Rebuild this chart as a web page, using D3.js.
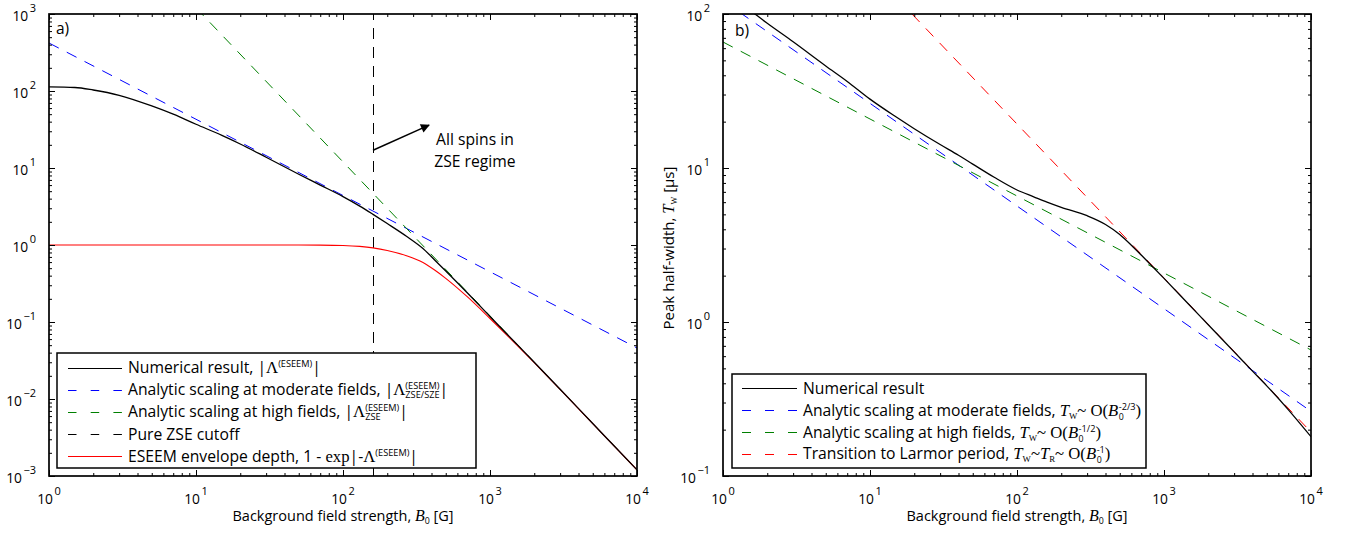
<!DOCTYPE html>
<html>
<head>
<meta charset="utf-8">
<script src="https://cdn.jsdelivr.net/npm/d3@7"></script>
<style>
  body { margin: 0; background: #fff; }
  svg { display: block; }
  text { white-space: pre; }
</style>
</head>
<body>
<svg id="fig" width="1354" height="542"></svg>
<script>
// ---------- panel (a): ESEEM modulation parameter vs background field ----------
const fieldA        = [1, 1.5, 2, 3, 5, 7, 10, 15, 20, 30, 50, 70, 100, 130, 160, 200, 270, 350, 420, 500, 700, 1000, 1500, 2000, 3000, 5000, 7000, 10000];
const lambdaNum     = [113, 111, 103, 88, 64, 50, 37, 26.5, 20.5, 13.8, 8.3, 6.0, 4.25, 3.2, 2.5, 1.9, 1.3, 0.9, 0.64, 0.46, 0.24, 0.118, 0.053, 0.030, 0.0134, 0.0048, 0.00245, 0.0012];
const envelopeDepth = [1, 1, 1, 1, 1, 1, 1, 1, 1, 1, 0.9998, 0.9975, 0.986, 0.959, 0.918, 0.850, 0.727, 0.593, 0.473, 0.369, 0.213, 0.111, 0.0516, 0.0296, 0.0133, 0.0048, 0.00245, 0.0012];
const moderateFieldA = [1, 10000];
const moderateLambda = [420, 0.046];
const highFieldA     = [10, 10000];
const highLambda     = [1200, 0.0012];
const zseCutoff      = 160;

// ---------- panel (b): peak half-width vs background field ----------
const fieldB     = [1, 1.5, 2, 3, 5, 7, 10, 15, 20, 30, 40, 50, 70, 100, 130, 160, 200, 300, 400, 500, 600, 700, 800, 1000, 1500, 2000, 3000, 4000, 5000, 7000, 10000];
const widthNum   = [140, 107, 87, 66, 46, 36.5, 28, 21.5, 18, 14.2, 12.1, 10.6, 8.7, 7.2, 6.5, 6.0, 5.55, 4.9, 4.3, 3.7, 3.15, 2.72, 2.39, 1.92, 1.28, 0.96, 0.64, 0.48, 0.385, 0.27, 0.18];
const moderateFieldB = [1, 10000];
const moderateWidth  = [122, 0.263];
const highFieldB     = [1, 10000];
const highWidth      = [65.8, 0.658];
const larmorField    = [19.3, 10000];
const larmorWidth    = [100, 0.193];

// ---------- axis tick labels (decade exponents) ----------
const xDecades  = [0, 1, 2, 3, 4];
const yDecadesA = [-3, -2, -1, 0, 1, 2, 3];
const yDecadesB = [-1, 0, 1, 2];

const SANS  = "'Open Sans','Noto Sans',sans-serif";
const SERIF = "'Liberation Serif','DejaVu Serif',serif";
const FS_TICK = 13.8, FS_EXP = 11, FS_LEG = 15.7, FS_LAB = 14.5;

const svg = d3.select("#fig");

const xA = d3.scaleLog().domain([1, 1e4]).range([49, 637]);
const yA = d3.scaleLog().domain([1e-3, 1e3]).range([476, 14]);
const xB = d3.scaleLog().domain([1, 1e4]).range([723, 1311]);
const yB = d3.scaleLog().domain([0.1, 100]).range([476, 14]);

const zip = (a, b) => a.map((v, i) => [v, b[i]]);

// Sequential text pieces (mixed fonts, sub/superscripts). A piece with
// stack:true is placed at the start of the previous piece (sub under sup).
function rich(parent, x, y, parts, anchor = "start", rotate = 0) {
  const g = parent.append("g");
  let cx = 0, prevStart = 0;
  for (const p of parts) {
    const t = g.append("text")
      .attr("xml:space", "preserve")
      .attr("y", p.dy || 0)
      .style("font-family", p.f || SANS)
      .style("font-size", (p.s || FS_LEG) + "px")
      .style("font-style", p.i ? "italic" : "normal")
      .attr("fill", "#000")
      .text(p.t);
    const w = t.node().getComputedTextLength();
    if (p.stack) {
      t.attr("x", prevStart);
      cx = Math.max(cx, prevStart + w);
    } else {
      prevStart = cx + (p.dx || 0);
      t.attr("x", prevStart);
      cx = prevStart + w;
    }
  }
  const shift = anchor === "middle" ? -cx / 2 : anchor === "end" ? -cx : 0;
  g.attr("transform", `translate(${x},${y}) rotate(${rotate}) translate(${shift},0)`);
  return g;
}

function powLabel(e) {
  return [{ t: "10", s: FS_TICK }, { t: e < 0 ? "\u2212" + (-e) : String(e), s: FS_EXP, dy: -9, dx: 1.5 }];
}

function minorValues(lo, hi) {
  const out = [];
  for (let e = lo; e < hi; e++) for (let m = 2; m <= 9; m++) out.push(m * Math.pow(10, e));
  return out;
}

function frame(g, x, y, xdec, ydec) {
  const [x0, x1] = x.range();
  const [y0, y1] = y.range();
  const majX = xdec.map(e => Math.pow(10, e));
  const majY = ydec.map(e => Math.pow(10, e));
  const minX = minorValues(xdec[0], xdec[xdec.length - 1]);
  const minY = minorValues(ydec[0], ydec[ydec.length - 1]);

  const put = (axis, tr) => {
    const a = g.append("g").attr("transform", tr).call(axis);
    a.select(".domain").remove();
    a.selectAll("line").attr("stroke", "#000").attr("stroke-width", 1);
  };
  for (const [vals, len] of [[majX, 6], [minX, 3]]) {
    put(d3.axisBottom(x).tickValues(vals).tickSize(-len).tickFormat(""), `translate(0,${y0})`);
    put(d3.axisTop(x).tickValues(vals).tickSize(-len).tickFormat(""), `translate(0,${y1})`);
  }
  for (const [vals, len] of [[majY, 6], [minY, 3]]) {
    put(d3.axisLeft(y).tickValues(vals).tickSize(-len).tickFormat(""), `translate(${x0},0)`);
    put(d3.axisRight(y).tickValues(vals).tickSize(-len).tickFormat(""), `translate(${x1},0)`);
  }
  g.append("rect").attr("x", x0).attr("y", y1).attr("width", x1 - x0).attr("height", y0 - y1)
    .attr("fill", "none").attr("stroke", "#000").attr("stroke-width", 1.7);

  xdec.forEach(e => rich(g, x(Math.pow(10, e)), 504, powLabel(e), "middle"));
  ydec.forEach(e => rich(g, x0 - 13, y(Math.pow(10, e)) + 7, powLabel(e), "end"));
}

function series(g, x, y, pts, color, dashed, width) {
  g.append("path")
    .datum(pts)
    .attr("d", d3.line().x(d => x(d[0])).y(d => y(d[1])).curve(d3.curveMonotoneX))
    .attr("fill", "none")
    .attr("stroke", color)
    .attr("stroke-width", width || 1)
    .attr("stroke-dasharray", dashed ? "11,9" : null);
}

function legend(g, box, rows) {
  g.append("rect").attr("x", box[0]).attr("y", box[1]).attr("width", box[2] - box[0]).attr("height", box[3] - box[1])
    .attr("fill", "#fff").attr("stroke", "#000").attr("stroke-width", 1.5);
  rows.forEach(r => {
    const ly = 2 * Math.round((r.y - 6) / 2) + 0.5;
    g.append("line").attr("x1", r.x1).attr("x2", r.x2).attr("y1", ly).attr("y2", ly)
      .attr("stroke", r.color).attr("stroke-width", 1.2)
      .attr("stroke-dasharray", r.dash || null);
    rich(g, r.tx, r.y, r.parts);
  });
}

const SUP = 9.2, SUB = 9.8;

// ================= panel (a) =================
const ga = svg.append("g");
ga.append("clipPath").attr("id", "clipA").append("rect")
  .attr("x", 49).attr("y", 14).attr("width", 588).attr("height", 462);
const pa = ga.append("g").attr("clip-path", "url(#clipA)");

const cutX = Math.round(xA(zseCutoff)) + 0.5;
pa.append("line")
  .attr("x1", cutX).attr("x2", cutX)
  .attr("y1", yA(1e-3)).attr("y2", yA(1e3))
  .attr("stroke", "#000").attr("stroke-width", 1).attr("stroke-dasharray", "11,8");
series(pa, xA, yA, zip(moderateFieldA, moderateLambda), "#0000ff", true);
series(pa, xA, yA, zip(highFieldA, highLambda), "#008000", true);
series(pa, xA, yA, zip(fieldA, envelopeDepth), "#ff0000", false, 1.1);
series(pa, xA, yA, zip(fieldA, lambdaNum), "#000", false, 1.3);

frame(ga, xA, yA, xDecades, yDecadesA);

// annotation arrow pointing into the ZSE regime
const arrowFrom = [xA(zseCutoff), yA(17)];
const arrowTo = [xA(385), yA(36)];
ga.append("defs").append("marker").attr("id", "head").attr("viewBox", "0 0 10 10")
  .attr("refX", 9).attr("refY", 5).attr("markerWidth", 13).attr("markerHeight", 9)
  .attr("markerUnits", "userSpaceOnUse").attr("orient", "auto")
  .append("path").attr("d", "M0,0 L10,5 L0,10 z").attr("fill", "#000");
ga.append("line").attr("x1", arrowFrom[0]).attr("y1", arrowFrom[1])
  .attr("x2", arrowTo[0]).attr("y2", arrowTo[1])
  .attr("stroke", "#000").attr("stroke-width", 1.5).attr("marker-end", "url(#head)");
rich(ga, xA(790), yA(19.9), [{ t: "All spins in", s: FS_LEG }], "middle");
rich(ga, xA(790), yA(10.3), [{ t: "ZSE regime", s: FS_LEG }], "middle");

rich(ga, 56, 34, [{ t: "a)", s: 15.5 }]);

const lam = { t: "\u039B", f: SERIF, s: FS_LEG + 1 };
legend(ga, [57, 353, 476, 468], [
  { y: 373, x1: 68, x2: 122, tx: 128, color: "#000",
    parts: [{ t: "Numerical result, |" }, lam, { t: "(ESEEM)", s: SUP, dy: -6 }, { t: "|" }] },
  { y: 395, x1: 68, x2: 122, tx: 128, color: "#0000ff", dash: "8.5,14.2",
    parts: [{ t: "Analytic scaling at moderate fields, |" }, lam, { t: "(ESEEM)", s: SUP, dy: -6 },
            { t: "ZSE/SZE", s: SUP, dy: 3, stack: true }, { t: "|" }] },
  { y: 417, x1: 68, x2: 122, tx: 128, color: "#008000", dash: "8.5,14.2",
    parts: [{ t: "Analytic scaling at high fields, |" }, lam, { t: "(ESEEM)", s: SUP, dy: -6 },
            { t: "ZSE", s: SUP, dy: 3, stack: true }, { t: "|" }] },
  { y: 440, x1: 68, x2: 122, tx: 128, color: "#000", dash: "8.5,14.2",
    parts: [{ t: "Pure ZSE cutoff" }] },
  { y: 462, x1: 68, x2: 122, tx: 128, color: "#ff0000",
    parts: [{ t: "ESEEM envelope depth, 1 - " }, { t: "exp", f: SERIF, s: FS_LEG + 1 }, { t: "|-" }, lam,
            { t: "(ESEEM)", s: SUP, dy: -6 }, { t: "|" }] }
]);

rich(ga, 343, 521, [{ t: "Background field strength, ", s: FS_LAB }, { t: "B", f: SERIF, i: true, s: FS_LAB + 1.5 },
  { t: "0", s: SUB - 1, dy: 3 }, { t: " [G]", s: FS_LAB }], "middle");

// ================= panel (b) =================
const gb = svg.append("g");
gb.append("clipPath").attr("id", "clipB").append("rect")
  .attr("x", 723).attr("y", 14).attr("width", 588).attr("height", 462);
const pb = gb.append("g").attr("clip-path", "url(#clipB)");

series(pb, xB, yB, zip(larmorField, larmorWidth), "#ff0000", true);
series(pb, xB, yB, zip(moderateFieldB, moderateWidth), "#0000ff", true);
series(pb, xB, yB, zip(highFieldB, highWidth), "#008000", true);
series(pb, xB, yB, zip(fieldB, widthNum), "#000", false, 1.3);

frame(gb, xB, yB, xDecades, yDecadesB);

rich(gb, 735, 36, [{ t: "b)", s: 15.5 }]);

const T = { t: "T", f: SERIF, i: true, s: FS_LEG + 1 };
const Wsub = { t: "W", f: SERIF, s: SUB - 1, dy: 3 };
const Bit = { t: "B", f: SERIF, i: true, s: FS_LEG + 1 };
const zeroSub = { t: "0", s: SUB - 1, dy: 3.5, dx: 0.5 };
const paren = { t: ")", f: SERIF, s: FS_LEG + 1 };
legend(gb, [732, 374, 1146, 468], [
  { y: 394, x1: 742, x2: 797, tx: 803, color: "#000",
    parts: [{ t: "Numerical result" }] },
  { y: 416, x1: 742, x2: 797, tx: 803, color: "#0000ff", dash: "9,14",
    parts: [{ t: "Analytic scaling at moderate fields, " }, T, Wsub, { t: "~ O(", f: SERIF, s: FS_LEG + 1 }, Bit,
            zeroSub, { t: "-2/3", s: SUP, dy: -6, stack: true }, paren] },
  { y: 438, x1: 742, x2: 797, tx: 803, color: "#008000", dash: "9,14",
    parts: [{ t: "Analytic scaling at high fields, " }, T, Wsub, { t: "~ O(", f: SERIF, s: FS_LEG + 1 }, Bit,
            zeroSub, { t: "-1/2", s: SUP, dy: -6, stack: true }, paren] },
  { y: 459, x1: 742, x2: 797, tx: 803, color: "#ff0000", dash: "9,14",
    parts: [{ t: "Transition to Larmor period, " }, T, Wsub, { t: "~", f: SERIF, s: FS_LEG + 1 }, T,
            { t: "R", f: SERIF, s: SUB - 1, dy: 3 }, { t: "~ O(", f: SERIF, s: FS_LEG + 1 }, Bit,
            zeroSub, { t: "-1", s: SUP, dy: -6, stack: true }, paren] }
]);

rich(gb, 1017, 521, [{ t: "Background field strength, ", s: FS_LAB }, { t: "B", f: SERIF, i: true, s: FS_LAB + 1.5 },
  { t: "0", s: SUB - 1, dy: 3 }, { t: " [G]", s: FS_LAB }], "middle");

rich(gb, 674, 248, [{ t: "Peak half-width, ", s: FS_LAB + 0.5 }, { t: "T", f: SERIF, i: true, s: FS_LAB + 2 },
  { t: "W", f: SERIF, s: SUB - 1.5, dy: 3 }, { t: " [\u03BCs]", s: FS_LAB + 0.5 }], "middle", -90);
</script>
</body>
</html>
